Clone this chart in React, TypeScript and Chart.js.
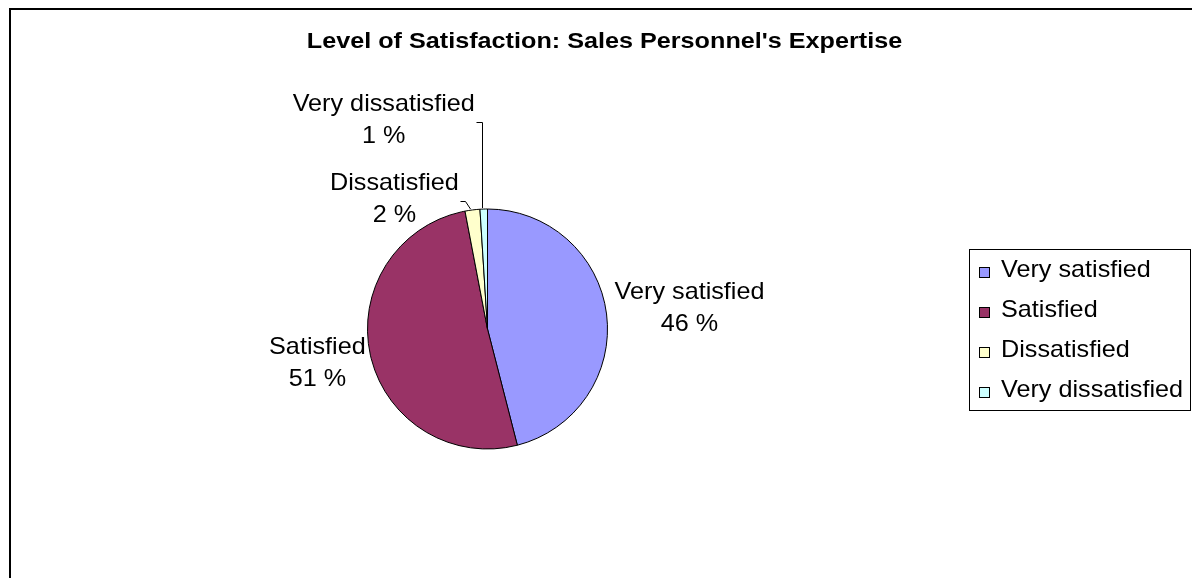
import React, { useEffect, useRef } from 'react';
import { Chart, registerables } from 'chart.js';

Chart.register(...registerables);

const TITLE = "Level of Satisfaction: Sales Personnel's Expertise";
const categories = ['Very satisfied', 'Satisfied', 'Dissatisfied', 'Very dissatisfied'];
const percentages = [46, 51, 2, 1];
const sliceColors = ['#9999FF', '#993366', '#FFFFCC', '#CCFFFF'];

// label placement relative to the outer-edge midpoint of each slice
const labelPlacement = [
  { dx: 83, dy: -15, leader: 0 },
  { dx: -53, dy: -1, leader: 0 },
  { dx: -78, dy: -20, leader: 7 },
  { dx: -100, dy: -98, leader: 2 },
];

const FONT = '"Liberation Sans", Arial, sans-serif';
const TEXT_SCALE = 1.05;

function drawText(ctx: CanvasRenderingContext2D, text: string, x: number, y: number, align: CanvasTextAlign, scaleX: number) {
  ctx.save();
  ctx.translate(x, y);
  ctx.scale(scaleX, 1);
  ctx.textAlign = align;
  ctx.textBaseline = 'alphabetic';
  ctx.fillText(text, 0, 0);
  ctx.restore();
}

const decorPlugin = {
  id: 'decor',
  afterDraw(chart: any) {
    const ctx: CanvasRenderingContext2D = chart.ctx;
    ctx.save();
    // outer frame
    ctx.strokeStyle = '#000';
    ctx.lineWidth = 2;
    ctx.strokeRect(10, 9, 1400, 1000);

    // title
    ctx.fillStyle = '#000';
    ctx.font = `bold 22px ${FONT}`;
    drawText(ctx, TITLE, 604.5, 48, 'center', 1.145);

    // data labels
    ctx.font = `24px ${FONT}`;
    const meta = chart.getDatasetMeta(0);
    meta.data.forEach((arc: any, i: number) => {
      const p = arc.getProps(['x', 'y', 'startAngle', 'endAngle', 'outerRadius'], true);
      const mid = (p.startAngle + p.endAngle) / 2;
      const ex = p.x + Math.cos(mid) * p.outerRadius;
      const ey = p.y + Math.sin(mid) * p.outerRadius;
      const pl = labelPlacement[i];
      const cx = ex + pl.dx;
      const b1 = ey + pl.dy;
      const l1 = categories[i];
      const l2 = `${percentages[i]} %`;
      drawText(ctx, l1, cx, b1, 'center', TEXT_SCALE);
      drawText(ctx, l2, cx, b1 + 32, 'center', TEXT_SCALE);
      if (pl.leader) {
        const w = Math.max(ctx.measureText(l1).width, ctx.measureText(l2).width) * TEXT_SCALE;
        const sx = Math.round(cx + w / 2 + 1) + 0.5;
        const sy = Math.round(b1 + 11) + 0.5;
        ctx.beginPath();
        ctx.lineWidth = 1;
        ctx.strokeStyle = '#000';
        ctx.moveTo(sx, sy);
        ctx.lineTo(Math.round(ex - pl.leader) + 0.5, sy);
        ctx.lineTo(Math.round(ex - 2) + 0.5, Math.round(ey - 1));
        ctx.stroke();
      }
    });

    // legend
    const lx = 969.5, ly = 249.5, lw = 221, lh = 161;
    ctx.lineWidth = 1;
    ctx.strokeStyle = '#000';
    ctx.strokeRect(lx, ly, lw, lh);
    categories.forEach((c, i) => {
      const rowY = 272 + i * 40;
      ctx.fillStyle = sliceColors[i];
      ctx.fillRect(979, rowY - 5, 11, 11);
      ctx.strokeStyle = '#000';
      ctx.strokeRect(979.5, rowY - 4.5, 10, 10);
      ctx.fillStyle = '#000';
      drawText(ctx, c, 1001, rowY + 5, 'left', TEXT_SCALE);
    });
    ctx.restore();
  },
};

export default function App() {
  const ref = useRef<HTMLCanvasElement | null>(null);
  useEffect(() => {
    if (!ref.current) return;
    const chart = new Chart(ref.current, {
      type: 'pie',
      data: {
        labels: categories,
        datasets: [
          {
            data: percentages,
            backgroundColor: sliceColors,
            borderColor: '#000',
            borderWidth: 1,
          },
        ],
      },
      options: {
        responsive: false,
        animation: false,
        devicePixelRatio: 1,
        layout: { padding: { left: 367, right: 584, top: 208, bottom: 128 } },
        plugins: {
          legend: { display: false },
          tooltip: { enabled: false },
          title: { display: false },
        },
      },
      plugins: [decorPlugin],
    });
    return () => chart.destroy();
  }, []);
  return (
    <div style={{ position: 'fixed', left: 0, top: 0, width: 1192, height: 578, background: '#fff' }}>
      <canvas ref={ref} width={1192} height={578} style={{ width: 1192, height: 578, display: 'block' }} />
    </div>
  );
}
